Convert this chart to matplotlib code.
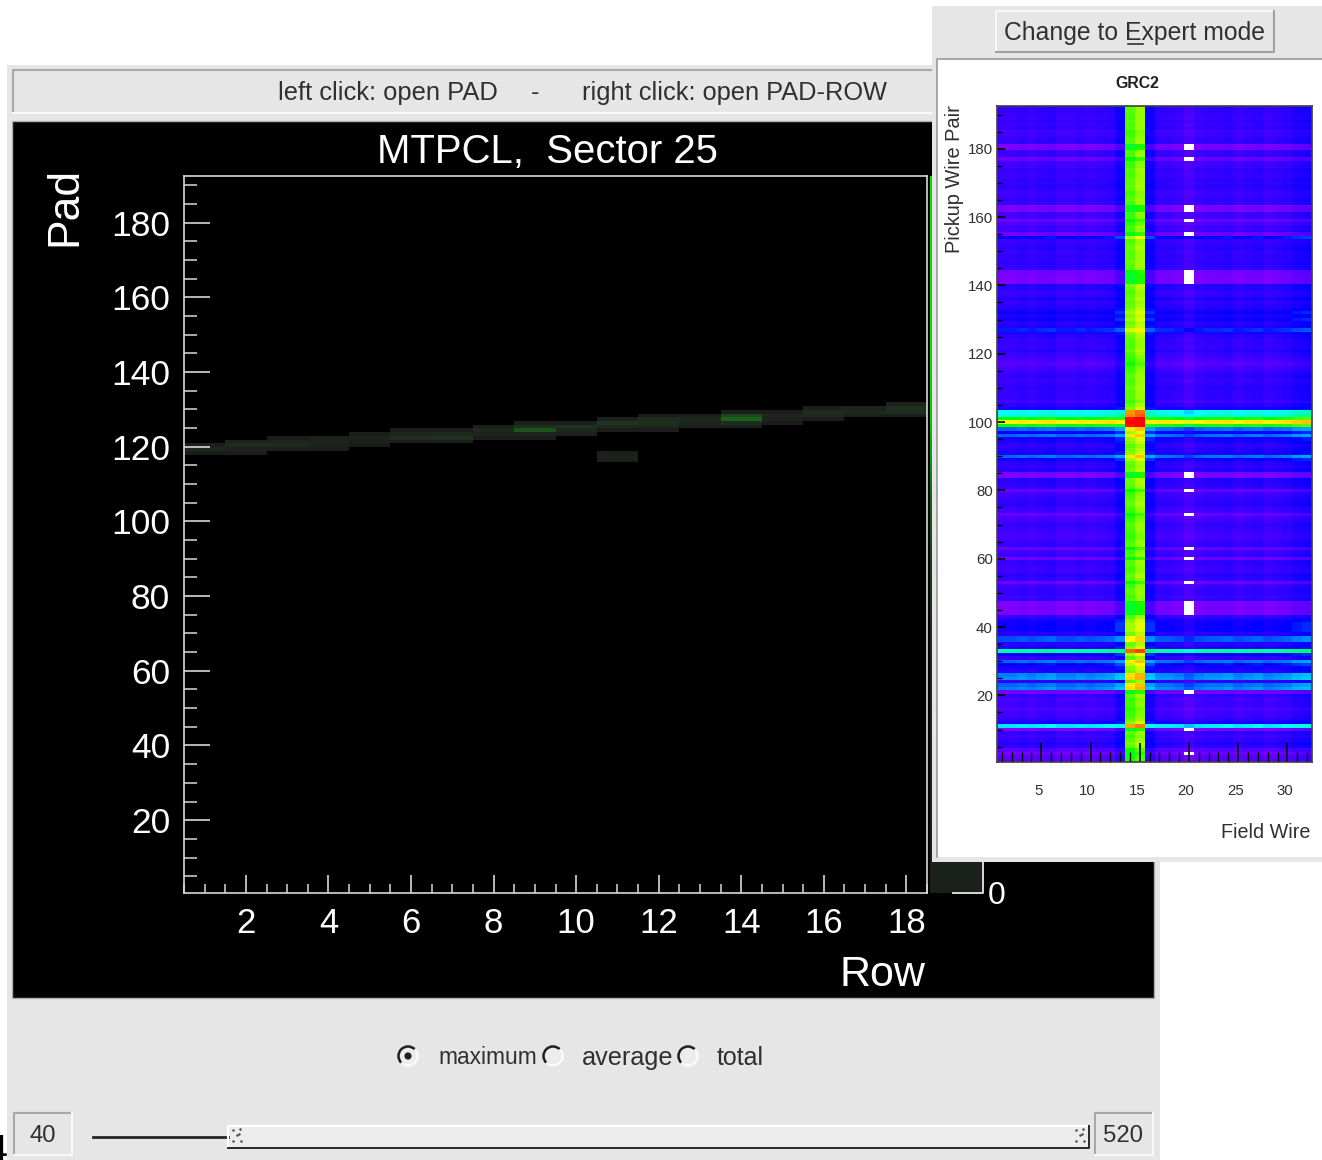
import numpy as np
import matplotlib
matplotlib.use("Agg")
import matplotlib.pyplot as plt
from matplotlib.colors import LinearSegmentedColormap
from matplotlib.patches import Rectangle, Circle, Arc
from matplotlib.ticker import MultipleLocator
from matplotlib.transforms import ScaledTranslation

plt.rcParams["font.family"] = ["Liberation Sans", "DejaVu Sans"]

W, H = 1322, 1160

# left panel: MTPCL sector, one list of charge levels per row, starting at track_low
track_low = [118, 118, 119, 119, 120, 121, 121, 122, 122, 123, 124, 124, 125, 125, 126, 127, 128, 128]
track_vals = [
    [.10, .20, .12], [.10, .14, .22, .14], [.12, .22, .16, .10], [.10, .14, .16, .12],
    [.10, .12, .14, .10], [.10, .26, .18, .10], [.12, .28, .20, .10], [.10, .14, .20, .12],
    [.10, .16, .60, .26, .12], [.12, .20, .28, .12], [.10, .20, .30, .12], [.10, .20, .24, .22, .10],
    [.12, .18, .20, .12], [.12, .24, .75, .50, .10], [.10, .14, .18, .10], [.10, .20, .24, .12],
    [.12, .20, .14], [.12, .22, .26, .14],
]
extra_row = 11
extra_pads = [116, 117, 118]
extra_vals = [.12, .13, .12]
pad_ticks = [20, 40, 60, 80, 100, 120, 140, 160, 180]
row_ticks = [2, 4, 6, 8, 10, 12, 14, 16, 18]
# colour scale levels, bottom to top
scale_levels = [.08, .10, .12, .16, .22, .40, .85, 1.0, 1.0, 1.0]

# right panel: GRC2 map, level per pickup wire pair (pad 1 first) with per field wire gain and offset
pad_level = [
    .08, .08, .04, .08, .14, .16, .14, .12, .14, .03,
    .40, .18, .14, .12, .12, .10, .12, .12, .12, .14,
    .04, .32, .30, .14, .33, .32, .16, .18, .22, .30,
    .14, .20, .48, .18, .15, .28, .28, .16, .20, .20,
    .20, .18, .14, .03, .03, .03, .03, .14, .12, .14,
    .14, .12, .05, .14, .15, .13, .12, .14, .14, .05,
    .13, .12, .06, .14, .13, .11, .11, .12, .13, .14,
    .12, .10, .06, .12, .13, .15, .14, .13, .12, .06,
    .14, .15, .16, .03, .03, .16, .14, .15, .20, .30,
    .18, .16, .14, .17, .19, .30, .20, .30, .60, .76,
    .60, .44, .42, .18, .15, .12, .14, .14, .14, .15,
    .14, .13, .14, .14, .12, .11, .08, .10, .12, .13,
    .15, .13, .14, .14, .15, .17, .24, .17, .16, .20,
    .17, .20, .17, .15, .14, .16, .14, .13, .15, .17,
    .03, .03, .03, .04, .14, .14, .15, .14, .14, .14,
    .15, .14, .13, .22, .05, .12, .13, .10, .05, .12,
    .12, .03, .03, .13, .14, .13, .12, .14, .15, .14,
    .14, .13, .13, .14, .12, .12, .05, .13, .13, .03,
    .03, .14, .14, .12, .11, .14, .13, .14, .13, .13, .14, .14,
]
wire_gain = [1, 1, 1, 1, 1, 1, 1, 1, 1, 1, 1, 1, .9, .72, .72, .9,
             1, 1, 1, 1, 1, 1, 1, 1, 1, 1, 1, 1, 1, 1, 1, 1]
wire_offset = [0, 0, .01, 0, .01, .02, 0, 0, .01, 0, .01, .02, .08, .55, .59, .08,
               .01, .01, 0, -.03, 0, .01, .01, .02, 0, .01, .02, 0, .01, .02, .04, .05]
dead_wire = 20
dead_pads = [3, 10, 21, 44, 45, 46, 47, 53, 60, 63, 73, 80, 84, 85,
             141, 142, 143, 144, 155, 159, 162, 163, 177, 180, 181]
grc_xticks = [5, 10, 15, 20, 25, 30]
grc_yticks = [20, 40, 60, 80, 100, 120, 140, 160, 180]

GREY = "#e6e6e6"
INK = "#303030"
FRAME = "#d8d8d8"

fig = plt.figure(figsize=(W/100, H/100), dpi=100, facecolor="white")


def px_axes(x0, y0, x1, y1, z):
    return fig.add_axes([x0/W, 1 - y1/H, (x1 - x0)/W, (y1 - y0)/H], zorder=z)


def box(ax, x0, y0, x1, y1, face=GREY, dark="#a8a8a8", light="#f8f8f8", lw=1.5):
    ax.add_patch(Rectangle((x0, y0), x1 - x0, y1 - y0, fc=face, ec="none"))
    ax.plot([x0, x0, x1], [y1, y0, y0], color=dark, lw=lw)
    ax.plot([x0, x1, x1], [y1, y1, y0], color=light, lw=lw)


def radio(ax, x, y, on=False):
    ax.add_patch(Circle((x, y), 9.5, fc="#ececec", ec="none"))
    ax.add_patch(Arc((x, y), 19, 19, theta1=135, theta2=315, color="#202020", lw=1.8))
    ax.add_patch(Arc((x, y), 19, 19, theta1=315, theta2=495, color="#fafafa", lw=1.8))
    if on:
        ax.add_patch(Circle((x, y), 3.6, fc="#202020", ec="none"))


# window chrome, in pixel coordinates
bg = px_axes(0, 0, W, H, 0)
bg.set_xlim(0, W); bg.set_ylim(H, 0); bg.axis("off")
bg.text(7, 1170, "4", fontsize=27, ha="right", va="bottom", color="black", clip_on=True)
bg.add_patch(Rectangle((7, 65), 1153, H - 65, fc=GREY, ec="none"))
box(bg, 13, 70, 934, 113)
bg.text(278, 93, "left click: open PAD", fontsize=18.4, color=INK, va="center")
bg.text(535, 93, "-", fontsize=18.4, color=INK, va="center", ha="center")
bg.text(582, 93, "right click: open PAD-ROW", fontsize=18.3, color=INK, va="center")
bg.add_patch(Rectangle((12, 121), 1142, 877, fc="black", ec="#b0b0b0", lw=1))
bg.text(547, 152, "MTPCL,  Sector 25", fontsize=28.9, color="white", ha="center", va="center")
bg.text(65, 167, "Pad", fontsize=32, color="white", rotation=90, ha="center", va="top")
bg.text(925, 975, "Row", fontsize=31, color="white", ha="right", va="center")
bg.text(997, 896, "0", fontsize=23, color="white", ha="center", va="center")
radio(bg, 408, 1056, on=True); radio(bg, 553, 1056); radio(bg, 688, 1056)
bg.text(438, 1058, "maximum", fontsize=16.4, color=INK, va="center")
bg.text(582, 1058, "average", fontsize=18.2, color=INK, va="center")
bg.text(717, 1058, "total", fontsize=18, color=INK, va="center")
box(bg, 14, 1113, 72, 1155)
bg.text(43, 1136, "40", fontsize=17.2, color=INK, ha="center", va="center")
box(bg, 1095, 1113, 1153, 1155)
bg.text(1123, 1136, "520", fontsize=17.2, color=INK, ha="center", va="center")
bg.plot([93, 228], [1137, 1137], color="#282828", lw=2)
bg.add_patch(Rectangle((228, 1126), 860, 21, fc="#ececec", ec="none"))
bg.plot([228, 228, 1088], [1147, 1126, 1126], color="white", lw=1.5)
bg.plot([228, 1089, 1089], [1148, 1148, 1126], color="#282828", lw=1.4)
for cx in (237, 1080):
    bg.scatter([cx - 4, cx + 3, cx, cx - 4, cx + 4, cx + 2], [1130, 1129, 1135, 1141, 1141, 1134],
               s=3, color="#404040", lw=0)

# hit map
track_cmap = LinearSegmentedColormap.from_list(
    "track", [(0, "#000000"), (.1, "#1c1e1c"), (.3, "#1f331f"), (1, "#157a15")])
grid = np.zeros((192, 18))
for r, (lo, vals) in enumerate(zip(track_low, track_vals)):
    grid[lo - 1:lo - 1 + len(vals), r] = vals
grid[np.array(extra_pads) - 1, extra_row - 1] = extra_vals
ax = px_axes(184, 176, 927, 893, 1)
ax.set_facecolor("black")
ax.pcolormesh(np.arange(.5, 19), np.arange(.9, 193), grid, cmap=track_cmap, vmin=0, vmax=1)
ax.set_xlim(.5, 18.5); ax.set_ylim(.5, 192.5)
ax.set_xticks(row_ticks); ax.set_yticks(pad_ticks)
ax.xaxis.set_minor_locator(MultipleLocator(.5)); ax.yaxis.set_minor_locator(MultipleLocator(5))
ax.tick_params(axis="x", which="major", direction="in", length=13, width=1.2, color=FRAME,
               labelcolor="white", labelsize=25, pad=10)
ax.tick_params(axis="x", which="minor", direction="in", length=6.5, width=1.1, color=FRAME)
ax.tick_params(axis="y", which="major", direction="in", length=19, width=1.2, color=FRAME,
               labelcolor="white", labelsize=25.5, pad=10)
ax.tick_params(axis="y", which="minor", direction="in", length=9.5, width=1.1, color=FRAME)
for s in ax.spines.values():
    s.set_color(FRAME); s.set_linewidth(1.2)

# colour scale, mostly hidden behind the popup
scale_cmap = LinearSegmentedColormap.from_list(
    "scale", [(0, "#161616"), (.15, "#1e2a1e"), (.4, "#0a6a0a"), (1, "#00e400")])
ax_cb = px_axes(930, 176, 983, 893, 1)
ax_cb.imshow(np.array(scale_levels[::-1]).reshape(-1, 1), cmap=scale_cmap, vmin=0, vmax=1, aspect="auto",
             extent=[0, 1, 0, 1], interpolation="bilinear")
ax_cb.set_xticks([]); ax_cb.set_yticks([])
for s in ax_cb.spines.values():
    s.set_visible(False)
ax_cb.plot([.44, 1, 1], [0, 0, .05], color=FRAME, lw=1.4, clip_on=False, transform=ax_cb.transAxes)

# popup window
top = px_axes(0, 0, W, H, 3)
top.set_xlim(0, W); top.set_ylim(H, 0); top.axis("off"); top.patch.set_alpha(0)
top.add_patch(Rectangle((932, 6), 390, 856, fc=GREY, ec="none"))
top.add_patch(Rectangle((937, 59), 385, 798, fc="white", ec="none"))
top.plot([936.5, 936.5, W], [857, 59, 59], color="#9a9a9a", lw=1.2)
box(top, 996, 11, 1274, 52, dark="#f8f8f8", light="#a0a0a0")
top.text(1135, 33, "Change to Expert mode", fontsize=17.8, color=INK, ha="center", va="center")
top.plot([1128, 1143], [44, 44], color=INK, lw=1.2)
top.text(1137, 83, "GRC2", fontsize=11.4, fontweight="bold", color="#202020", ha="center", va="center")
top.text(1310, 833, "Field Wire", fontsize=14.2, color=INK, ha="right", va="center")
top.text(954, 253, "Pickup Wire Pair", fontsize=14.4, color=INK, rotation=90, ha="center", va="bottom")

root_cmap = LinearSegmentedColormap.from_list(
    "root", [(0, "#9000ff"), (.22, "#0000ff"), (.42, "#00ffff"), (.6, "#00ff00"), (.75, "#ffff00"), (1, "#ff0000")])
root_cmap.set_bad("white")
z = np.outer(pad_level, wire_gain) + np.array(wire_offset)
z = np.clip(z, 0, 1)
z[np.array(dead_pads) - 1, dead_wire - 1] = np.nan
ax2 = px_axes(997, 106, 1312, 762, 4)
ax2.pcolormesh(np.arange(.5, 33), np.arange(.5, 193), np.ma.masked_invalid(z), cmap=root_cmap, vmin=0, vmax=1)
ax2.set_xlim(.5, 32.5); ax2.set_ylim(.5, 192.5)
ax2.set_xticks(grc_xticks); ax2.set_yticks(grc_yticks)
ax2.xaxis.set_minor_locator(MultipleLocator(1)); ax2.yaxis.set_minor_locator(MultipleLocator(5))
ax2.tick_params(axis="x", which="major", direction="in", length=14, width=1.2, color="black",
                labelsize=10.8, labelcolor=INK, pad=16)
ax2.tick_params(axis="x", which="minor", direction="in", length=7, width=1, color="black")
ax2.tick_params(axis="y", which="major", direction="in", length=6, width=1.2, color="black",
                labelsize=10.8, labelcolor=INK, pad=3)
ax2.tick_params(axis="y", which="minor", direction="in", length=3.5, width=1, color="black")
for lab in ax2.get_xticklabels():
    lab.set_transform(lab.get_transform() + ScaledTranslation(-2/72, 0, fig.dpi_scale_trans))
for s in ax2.spines.values():
    s.set_color("#404040"); s.set_linewidth(1.2)

fig.savefig("out.png", dpi=100, facecolor="white")
